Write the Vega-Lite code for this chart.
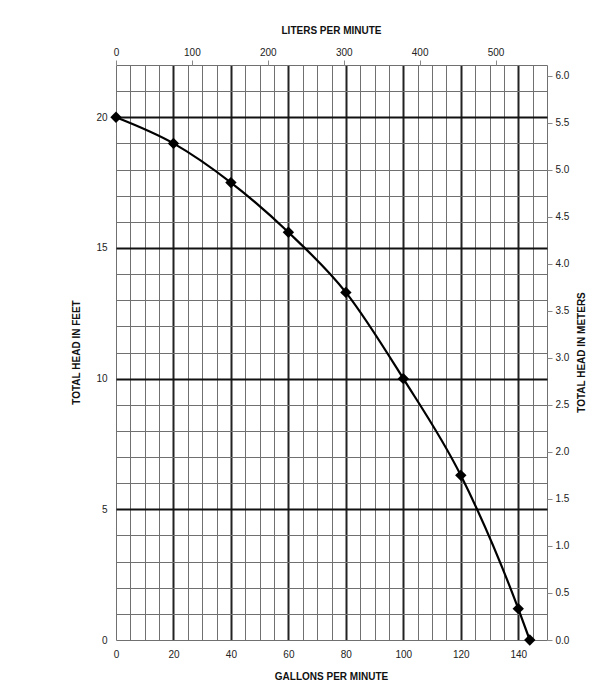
{
  "$schema": "https://vega.github.io/schema/vega-lite/v6.json",
  "width": 431,
  "height": 575,
  "autosize": {"type": "none"},
  "padding": {"left": 116, "top": 65, "right": 49, "bottom": 41},
  "background": "white",
  "config": {
    "view": {"stroke": null},
    "font": "Liberation Sans",
    "axis": {"labelFont": "Liberation Sans", "titleFont": "Liberation Sans", "labelFontSize": 10, "titleFontSize": 10, "titleFontWeight": "bold", "labelColor": "#222", "titleColor": "#111", "labelFlush": false, "labelOverlap": false}
  },
  "layer": [
    {
      "data": {"values": [
        {"gpm": 0, "feet": 20},
        {"gpm": 20, "feet": 19},
        {"gpm": 40, "feet": 17.5},
        {"gpm": 60, "feet": 15.6},
        {"gpm": 80, "feet": 13.3},
        {"gpm": 100, "feet": 10},
        {"gpm": 120, "feet": 6.3},
        {"gpm": 140, "feet": 1.2},
        {"gpm": 144, "feet": 0}
      ]},
      "encoding": {
        "x": {"field": "gpm", "type": "quantitative",
          "scale": {"domain": [0, 150], "nice": false, "zero": false},
          "axis": {"orient": "bottom", "title": "GALLONS PER MINUTE",
            "values": [0,5,10,15,20,25,30,35,40,45,50,55,60,65,70,75,80,85,90,95,100,105,110,115,120,125,130,135,140,145,150],
            "labelExpr": "datum.value % 20 === 0 ? datum.label : ''",
            "ticks": false, "domain": false, "labelPadding": 9,
            "grid": true,
            "gridColor": {"condition": {"test": "datum.value % 20 === 0 && datum.value > 0 && datum.value < 150", "value": "#222"}, "value": "#707070"},
            "gridWidth": {"condition": {"test": "datum.value % 20 === 0 && datum.value > 0 && datum.value < 150", "value": 2}, "value": 1},
            "gridOpacity": 1,
            "titleX": 215, "titleY": 36, "titleBaseline": "middle", "titleAlign": "center"}},
        "y": {"field": "feet", "type": "quantitative",
          "scale": {"domain": [0, 22], "nice": false, "zero": false},
          "axis": {"orient": "left", "title": "TOTAL HEAD IN FEET",
            "values": [0,1,2,3,4,5,6,7,8,9,10,11,12,13,14,15,16,17,18,19,20,21,22],
            "labelExpr": "datum.value % 5 === 0 ? datum.label : ''",
            "ticks": false, "domain": false, "labelPadding": 9,
            "grid": true,
            "gridColor": {"condition": {"test": "datum.value % 5 === 0 && datum.value > 0 && datum.value < 22", "value": "#111"}, "value": "#707070"},
            "gridWidth": {"condition": {"test": "datum.value % 5 === 0 && datum.value > 0 && datum.value < 22", "value": 2}, "value": 1},
            "gridOpacity": 1,
            "titleAngle": -90, "titleX": -40, "titleY": 287, "titleBaseline": "middle", "titleAlign": "center"}}
      },
      "layer": [
        {"mark": {"type": "line", "interpolate": "monotone", "color": "black", "strokeWidth": 2.2}},
        {"mark": {"type": "point", "shape": "diamond", "filled": true, "color": "black", "size": 130, "opacity": 1}}
      ]
    },
    {
      "data": {"values": [
        {"liters": 0, "meters": 0},
        {"liters": 567.8, "meters": 6.117}
      ]},
      "mark": {"type": "point", "opacity": 0},
      "encoding": {
        "x": {"field": "liters", "type": "quantitative",
          "scale": {"domain": [0, 567.8], "nice": false, "zero": false},
          "axis": {"orient": "top", "title": "LITERS PER MINUTE",
            "values": [0, 100, 200, 300, 400, 500],
            "domain": false, "grid": false, "tickSize": 5, "tickColor": "#888", "labelPadding": 3,
            "titleX": 215, "titleY": -35, "titleBaseline": "middle", "titleAlign": "center"}},
        "y": {"field": "meters", "type": "quantitative",
          "scale": {"domain": [0, 6.117], "nice": false, "zero": false},
          "axis": {"orient": "right", "title": "TOTAL HEAD IN METERS",
            "values": [0, 0.5, 1, 1.5, 2, 2.5, 3, 3.5, 4, 4.5, 5, 5.5, 6],
            "format": ".1f",
            "domain": false, "grid": false, "tickSize": 5, "tickColor": "#888", "labelPadding": 3,
            "titleAngle": -90, "titleX": 34, "titleY": 287, "titleBaseline": "middle", "titleAlign": "center"}}
      }
    }
  ],
  "resolve": {"scale": {"x": "independent", "y": "independent"}, "axis": {"x": "independent", "y": "independent"}}
}
